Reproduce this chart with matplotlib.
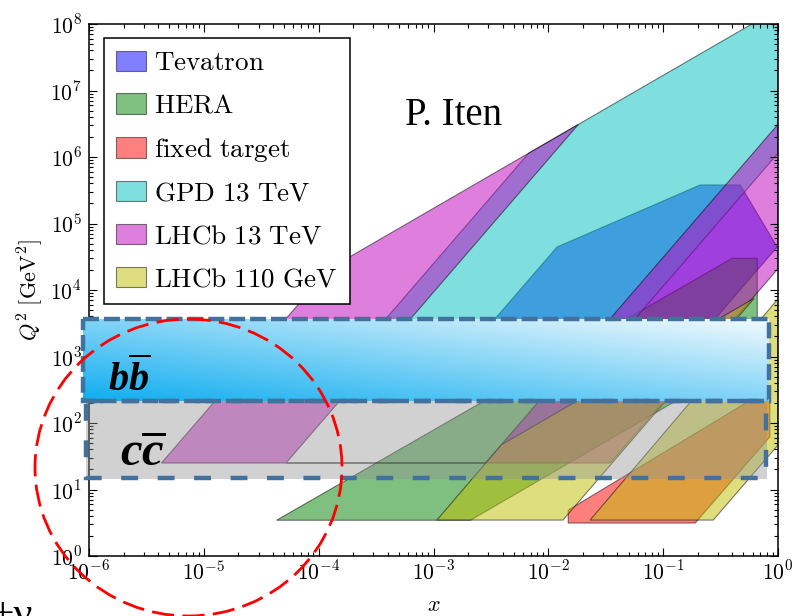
import numpy as np
import matplotlib
matplotlib.use("Agg")
import matplotlib.pyplot as plt
from matplotlib.patches import Rectangle, Ellipse
from matplotlib.ticker import LogLocator, FuncFormatter, NullFormatter

plt.rcParams["mathtext.fontset"] = "cm"
has_bfit = "mathtext.bfit" in plt.rcParams
if has_bfit:
    plt.rcParams["mathtext.bfit"] = "Liberation Serif:bold:italic"
    plt.rcParams["mathtext.rm"] = "Liberation Serif"

# Kinematic coverage regions, polygon vertices in (x, Q^2 [GeV^2])
tevatron_x = [1.54e-3, 0.0119, 0.21, 0.469, 0.984, 0.128]
tevatron_q2 = [745, 4.43e4, 3.8e5, 3.8e5, 4.43e4, 745]

hera_x = [4.3e-5, 0.40, 0.66, 0.66, 2.1e-3]
hera_q2 = [3.45, 3.0e4, 3.0e4, 1100, 3.45]

fixed_x = [0.0149, 0.0149, 0.85, 0.85, 0.19]
fixed_q2 = [3.13, 4.9, 330, 62, 3.13]

gpd_x = [1.73e-4, 6.74e-3, 1.0, 1.0, 0.0256]
gpd_q2 = [745, 1.14e6, 1.69e8, 1.14e6, 745]

lhcb13_x = [4.27e-6, 1.23e-4, 0.0183, 5.2e-5, 2.84e-3, 1.0, 1.0, 0.0346]
lhcb13_q2 = [25, 2.08e4, 3.1e6, 25, 25, 3.1e6, 2.09e4, 25]

lhcb110_lo_x = [1.07e-3, 3.9e-3, 0.62, 0.0134]
lhcb110_lo_q2 = [3.47, 47, 7500, 3.47]
lhcb110_hi_x = [0.0231, 0.273, 1.0, 1.0]
lhcb110_hi_q2 = [3.47, 3.47, 46.6, 7340]

labels = [r"$\mathrm{Tevatron}$", r"$\mathrm{HERA}$", r"$\mathrm{fixed\ target}$",
          r"$\mathrm{GPD\ 13\ TeV}$", r"$\mathrm{LHCb\ 13\ TeV}$", r"$\mathrm{LHCb\ 110\ GeV}$"]
colors = ["b", "g", "r", "c", "m", "y"]

regions = [
    [(tevatron_x, tevatron_q2)],
    [(hera_x, hera_q2)],
    [(fixed_x, fixed_q2)],
    [(gpd_x, gpd_q2)],
    [(lhcb13_x, lhcb13_q2)],
    [(lhcb110_lo_x, lhcb110_lo_q2), (lhcb110_hi_x, lhcb110_hi_q2)],
]

W, H = 795, 616
fig = plt.figure(figsize=(W / 100, H / 100), dpi=100)
ax = fig.add_axes([89 / W, (H - 556) / H, 689 / W, 532 / H])

for parts, lab, col in zip(regions, labels, colors):
    for i, (xs, qs) in enumerate(parts):
        ax.fill(xs, qs, facecolor=col, edgecolor="k", alpha=0.5, lw=0.8,
                label=lab if i == 0 else None)

ax.set_xscale("log")
ax.set_yscale("log")
ax.set_xlim(1e-6, 1)
ax.set_ylim(1, 1e8)

fmt = FuncFormatter(lambda v, _: r"$10^{%d}$" % int(round(np.log10(v))))
for axis in (ax.xaxis, ax.yaxis):
    axis.set_major_locator(LogLocator(base=10, numticks=20))
    axis.set_minor_locator(LogLocator(base=10, subs=np.arange(2, 10), numticks=20))
    axis.set_major_formatter(fmt)
    axis.set_minor_formatter(NullFormatter())
ax.tick_params(which="both", direction="in", top=True, right=True, width=0.8)
ax.tick_params(which="major", length=5.5, labelsize=15.5)
ax.tick_params(which="minor", length=3)
ax.tick_params(axis="x", pad=3)
ax.tick_params(axis="y", pad=5)
for s in ax.spines.values():
    s.set_linewidth(1.1)

ax.set_xlabel(r"$x$", fontsize=16, labelpad=8)
ax.set_ylabel(r"$Q^2\ [\mathrm{GeV}^2]$", fontsize=16, labelpad=4)

leg = ax.legend(loc="upper left", bbox_to_anchor=(15 / 689, (556 - 38) / 532),
                borderaxespad=0, fontsize=19.5, fancybox=False, framealpha=1,
                edgecolor="k", handlelength=1.1, handleheight=0.78,
                handletextpad=0.3, labelspacing=0.62, borderpad=0.45)
leg.get_frame().set_linewidth(1.1)
for txt in leg.get_texts():
    txt.set_math_fontfamily("cm")

# annotation layer in pixel coordinates
ov = fig.add_axes([0, 0, 1, 1], zorder=5)
ov.patch.set_alpha(0)

# charm band: translucent grey
ov.add_patch(Rectangle((86, 401), 681, 78, facecolor="#939393", alpha=0.42,
                       edgecolor="none", zorder=1))

# beauty band: diagonal blue-to-white gradient
nx, ny = 400, 80
u = np.linspace(0, 1, nx)[None, :]
v = np.linspace(1, 0, ny)[:, None]
t = 0.5 * u + 0.5 * v
c0 = np.array([0.06, 0.68, 0.94])
c1 = np.array([0.95, 0.98, 0.995])
img = c0 + (c1 - c0) * t[..., None]
ov.imshow(img, extent=(83, 769, 401, 319), aspect="auto",
          interpolation="bilinear", zorder=2)

dash_col = "#41719C"
ov.add_patch(Rectangle((86, 401), 680, 77, fill=False, edgecolor=dash_col,
                       lw=3.2, linestyle=(0, (3.8, 4.4)), zorder=3))
ov.add_patch(Rectangle((83, 319), 686, 82, fill=False, edgecolor=dash_col,
                       lw=3.2, linestyle=(0, (3.6, 1.1)), zorder=4))

mf = "custom" if has_bfit else "dejavuserif"
ov.text(108, 391, r"$\mathbfit{b}\overline{\mathbfit{b}}$", fontsize=29,
        math_fontfamily=mf, va="baseline", ha="left", zorder=6)
ov.text(120, 466, r"$\mathbfit{c}\overline{\mathbfit{c}}$", fontsize=35,
        math_fontfamily=mf, va="baseline", ha="left", zorder=6)

ov.text(405, 125, "P. Iten", fontsize=28, family="Liberation Serif",
        va="baseline", ha="left", zorder=6)

ov.add_patch(Ellipse((188.5, 467.5), 307, 297, fill=False, edgecolor="red",
                     lw=2.0, linestyle=(0, (8, 3)), zorder=7, clip_on=False))

ov.text(-9, 626, "+\u03bd", fontsize=30, family="Liberation Serif",
        va="baseline", ha="left", zorder=6)

ov.set_xlim(0, W)
ov.set_ylim(H, 0)
ov.axis("off")

fig.savefig("out.png", dpi=100)
